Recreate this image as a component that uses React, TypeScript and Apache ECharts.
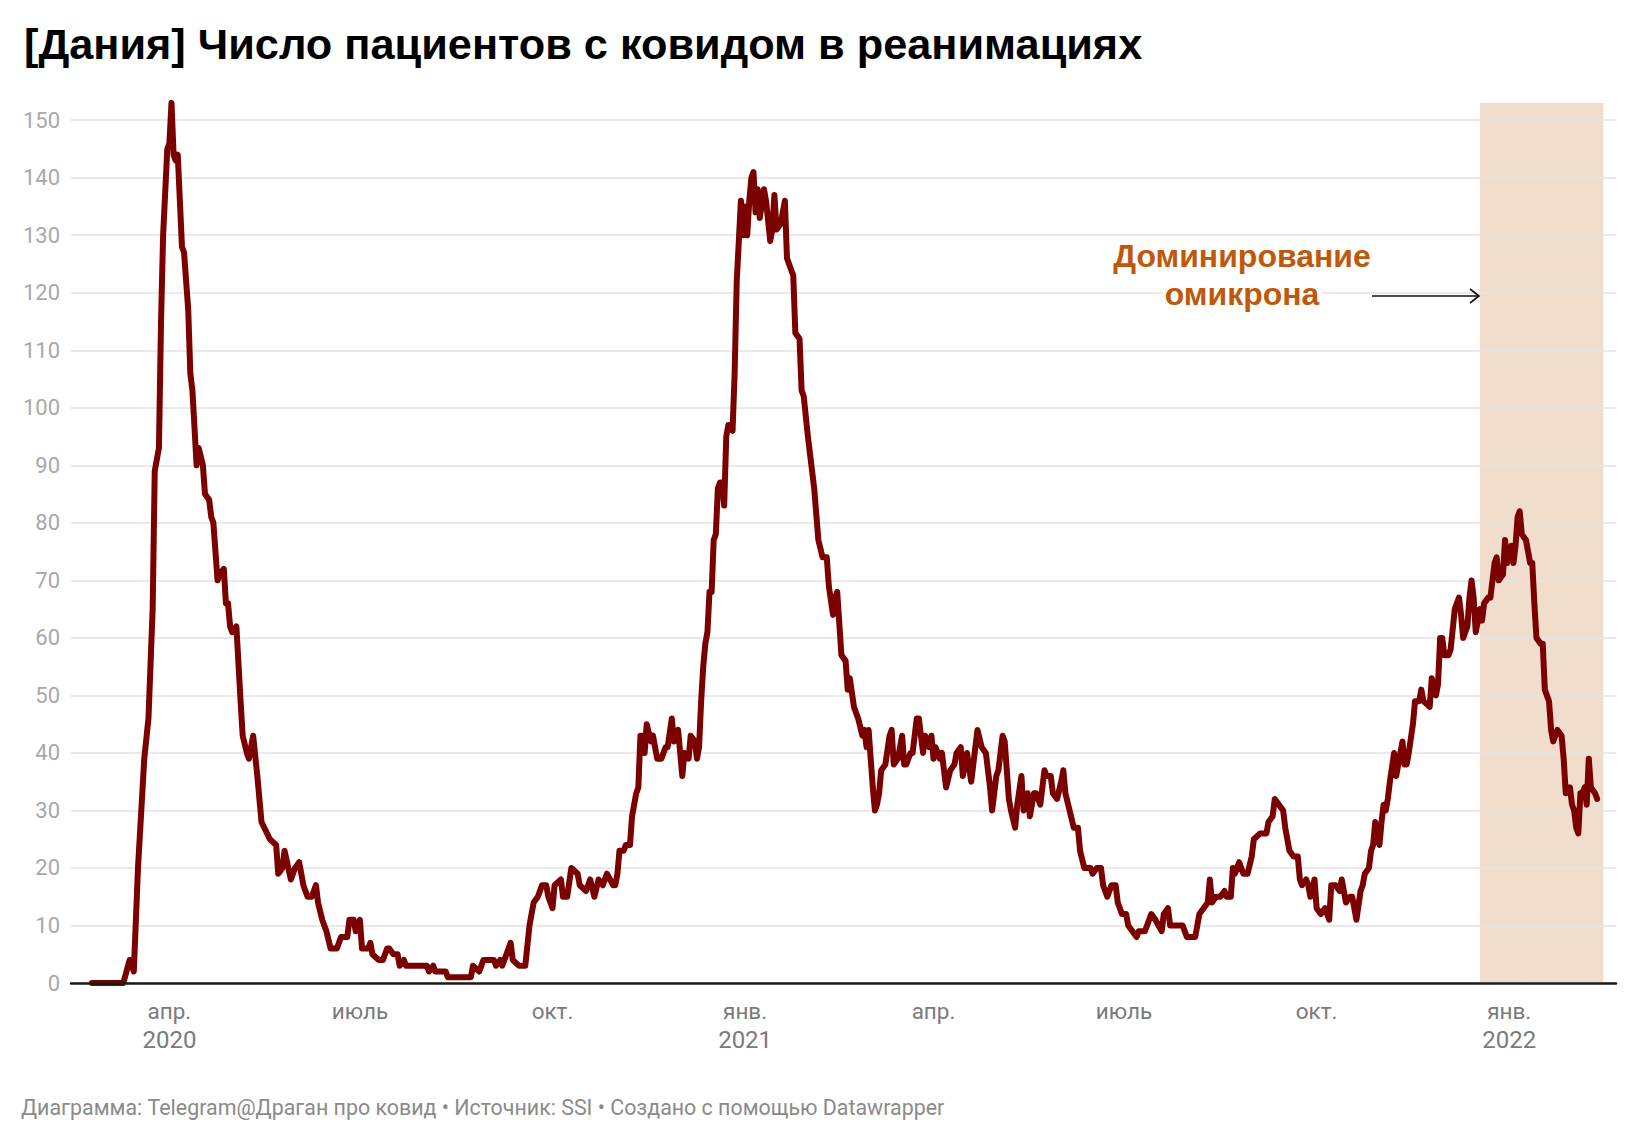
import React, { useEffect, useRef } from "react";
import * as echarts from "echarts";

// ---------- DATA ----------
const dates: string[] = [
  "2020-02-24","2020-03-10","2020-03-13","2020-03-15","2020-03-17","2020-03-20","2020-03-22","2020-03-24","2020-03-25","2020-03-27",
  "2020-03-28","2020-03-29","2020-03-31","2020-04-01","2020-04-02","2020-04-03","2020-04-04","2020-04-05","2020-04-07","2020-04-08",
  "2020-04-10","2020-04-11","2020-04-12","2020-04-14","2020-04-15","2020-04-17","2020-04-18","2020-04-20","2020-04-21","2020-04-22",
  "2020-04-24","2020-04-25","2020-04-27","2020-04-28","2020-04-29","2020-04-30","2020-05-01","2020-05-03","2020-05-05","2020-05-06",
  "2020-05-08","2020-05-09","2020-05-11","2020-05-13","2020-05-15","2020-05-19","2020-05-22","2020-05-23","2020-05-25","2020-05-26",
  "2020-05-29","2020-05-31","2020-06-02","2020-06-04","2020-06-06","2020-06-08","2020-06-10","2020-06-11","2020-06-13","2020-06-15",
  "2020-06-17","2020-06-20","2020-06-22","2020-06-25","2020-06-26","2020-06-28","2020-06-29","2020-07-01","2020-07-02","2020-07-05",
  "2020-07-06","2020-07-07","2020-07-10","2020-07-12","2020-07-14","2020-07-15","2020-07-17","2020-07-19","2020-07-20","2020-07-22",
  "2020-07-23","2020-08-02","2020-08-03","2020-08-05","2020-08-06","2020-08-11","2020-08-12","2020-08-23","2020-08-24","2020-08-27",
  "2020-08-29","2020-09-03","2020-09-04","2020-09-06","2020-09-07","2020-09-09","2020-09-11","2020-09-12","2020-09-15","2020-09-18",
  "2020-09-20","2020-09-22","2020-09-24","2020-09-26","2020-09-28","2020-09-29","2020-10-01","2020-10-02","2020-10-05","2020-10-06",
  "2020-10-08","2020-10-10","2020-10-13","2020-10-14","2020-10-17","2020-10-19","2020-10-21","2020-10-23","2020-10-25","2020-10-27",
  "2020-10-30","2020-10-31","2020-11-01","2020-11-02","2020-11-04","2020-11-05","2020-11-07","2020-11-08","2020-11-09","2020-11-10",
  "2020-11-11","2020-11-12","2020-11-13","2020-11-14","2020-11-15","2020-11-17","2020-11-18","2020-11-20","2020-11-22","2020-11-24",
  "2020-11-25","2020-11-27","2020-11-28","2020-11-30","2020-12-01","2020-12-02","2020-12-03","2020-12-05","2020-12-06","2020-12-08",
  "2020-12-09","2020-12-10","2020-12-11","2020-12-12","2020-12-13","2020-12-14","2020-12-15","2020-12-16","2020-12-17","2020-12-18",
  "2020-12-19","2020-12-20","2020-12-21","2020-12-22","2020-12-23","2020-12-24","2020-12-26","2020-12-27","2020-12-28","2020-12-30",
  "2020-12-31","2021-01-01","2021-01-02","2021-01-03","2021-01-04","2021-01-05","2021-01-06","2021-01-07","2021-01-08","2021-01-10",
  "2021-01-11","2021-01-13","2021-01-14","2021-01-15","2021-01-16","2021-01-18","2021-01-20","2021-01-21","2021-01-24","2021-01-25",
  "2021-01-27","2021-01-28","2021-01-29","2021-01-31","2021-02-01","2021-02-03","2021-02-05","2021-02-07","2021-02-09","2021-02-10",
  "2021-02-12","2021-02-13","2021-02-14","2021-02-16","2021-02-18","2021-02-19","2021-02-20","2021-02-22","2021-02-24","2021-02-26",
  "2021-02-27","2021-02-28","2021-03-01","2021-03-03","2021-03-04","2021-03-05","2021-03-06","2021-03-07","2021-03-09","2021-03-11",
  "2021-03-12","2021-03-13","2021-03-15","2021-03-17","2021-03-18","2021-03-19","2021-03-21","2021-03-22","2021-03-24","2021-03-25",
  "2021-03-27","2021-03-28","2021-03-30","2021-03-31","2021-04-01","2021-04-02","2021-04-04","2021-04-05","2021-04-07","2021-04-09",
  "2021-04-11","2021-04-12","2021-04-14","2021-04-15","2021-04-17","2021-04-19","2021-04-20","2021-04-22","2021-04-24","2021-04-26",
  "2021-04-28","2021-04-29","2021-05-01","2021-05-02","2021-05-04","2021-05-05","2021-05-07","2021-05-08","2021-05-10","2021-05-11",
  "2021-05-13","2021-05-14","2021-05-16","2021-05-17","2021-05-19","2021-05-20","2021-05-22","2021-05-24","2021-05-25","2021-05-27",
  "2021-05-28","2021-05-30","2021-06-01","2021-06-02","2021-06-03","2021-06-05","2021-06-07","2021-06-09","2021-06-10","2021-06-12",
  "2021-06-15","2021-06-16","2021-06-18","2021-06-20","2021-06-21","2021-06-23","2021-06-25","2021-06-27","2021-06-28","2021-06-30",
  "2021-07-02","2021-07-03","2021-07-05","2021-07-07","2021-07-08","2021-07-11","2021-07-12","2021-07-14","2021-07-16","2021-07-19",
  "2021-07-20","2021-07-22","2021-07-23","2021-07-26","2021-07-29","2021-07-31","2021-08-04","2021-08-06","2021-08-08","2021-08-10",
  "2021-08-11","2021-08-12","2021-08-14","2021-08-16","2021-08-18","2021-08-19","2021-08-21","2021-08-22","2021-08-23","2021-08-25",
  "2021-08-27","2021-08-29","2021-08-31","2021-09-01","2021-09-04","2021-09-07","2021-09-08","2021-09-10","2021-09-11","2021-09-13",
  "2021-09-15","2021-09-16","2021-09-18","2021-09-20","2021-09-22","2021-09-23","2021-09-24","2021-09-26","2021-09-27","2021-09-28",
  "2021-09-30","2021-10-01","2021-10-03","2021-10-05","2021-10-07","2021-10-08","2021-10-10","2021-10-12","2021-10-13","2021-10-15",
  "2021-10-17","2021-10-18","2021-10-19","2021-10-20","2021-10-22","2021-10-23","2021-10-24","2021-10-26","2021-10-27","2021-10-28",
  "2021-10-29","2021-10-31","2021-11-01","2021-11-02","2021-11-03","2021-11-04","2021-11-05","2021-11-07","2021-11-08","2021-11-09",
  "2021-11-11","2021-11-12","2021-11-13","2021-11-14","2021-11-16","2021-11-17","2021-11-19","2021-11-20","2021-11-21","2021-11-24",
  "2021-11-25","2021-11-27","2021-11-28","2021-11-29","2021-11-30","2021-12-01","2021-12-03","2021-12-04","2021-12-06","2021-12-07",
  "2021-12-08","2021-12-09","2021-12-10","2021-12-12","2021-12-13","2021-12-14","2021-12-15","2021-12-16","2021-12-18","2021-12-19",
  "2021-12-20","2021-12-22","2021-12-23","2021-12-25","2021-12-26","2021-12-27","2021-12-29","2021-12-30","2021-12-31","2022-01-01",
  "2022-01-02","2022-01-03","2022-01-04","2022-01-05","2022-01-06","2022-01-07","2022-01-09","2022-01-10","2022-01-11","2022-01-12",
  "2022-01-13","2022-01-14","2022-01-16","2022-01-17","2022-01-18","2022-01-20","2022-01-21","2022-01-22","2022-01-24","2022-01-26",
  "2022-01-27","2022-01-28","2022-01-30","2022-01-31","2022-02-01","2022-02-02","2022-02-03","2022-02-04","2022-02-05","2022-02-06",
  "2022-02-07","2022-02-08","2022-02-09","2022-02-11","2022-02-12"
];

const icuPatients: number[] = [
  0,0,4,2,20,39,46,65,89,93,
  115,130,145,146,153,144,143,144,128,127,
  117,106,103,90,93,90,85,84,81,80,
  70,71,72,66,66,62,61,62,49,43,
  40,39,43,36,28,25,24,19,20,23,
  18,20,21,17,15,15,17,14,11,9,
  6,6,8,8,11,11,9,11,6,6,
  7,5,4,4,6,6,5,5,3,4,
  3,3,2,3,2,2,1,1,3,2,
  4,4,3,4,3,5,7,4,3,3,
  10,14,15,17,17,15,13,17,18,15,
  15,20,19,17,16,18,15,18,17,19,
  17,17,19,23,23,24,24,29,31,33,
  34,43,43,40,45,42,43,39,39,41,
  41,46,42,44,40,36,40,39,43,42,
  39,41,49,55,59,61,68,68,77,78,
  86,87,87,83,95,97,96,106,122,136,
  130,135,130,136,140,141,134,138,133,138,
  136,129,131,137,131,132,136,126,123,113,
  112,103,102,95,92,86,77,74,74,69,
  64,67,68,57,56,51,53,48,46,43,
  44,41,44,34,30,31,33,37,38,43,
  44,38,39,43,38,38,40,40,46,46,
  40,43,41,43,39,41,39,40,34,37,
  38,40,41,36,40,35,38,44,41,40,
  34,30,36,37,43,42,32,30,27,31,
  36,30,33,29,33,33,31,37,36,36,
  33,32,35,37,33,30,27,27,23,20,
  20,19,20,20,17,15,17,17,14,12,
  12,10,9,8,9,9,10,12,11,9,
  12,13,10,10,10,8,8,12,13,14,
  18,14,15,15,16,15,15,20,19,21,
  19,19,22,25,26,26,28,29,32,31,
  30,27,23,22,22,18,17,18,17,15,
  18,13,12,13,11,17,17,16,18,14,
  15,15,13,11,16,17,19,20,23,24,
  28,24,28,31,30,32,35,40,36,38,
  42,38,38,40,45,49,49,51,49,48,
  53,50,52,60,60,57,57,58,65,66,
  67,64,60,62,67,70,67,61,65,63,
  66,67,67,73,74,70,71,77,73,75,
  76,73,76,81,82,78,77,75,73,73,
  66,60,59,59,51,49,44,42,44,43,
  39,33,34,31,30,27,26,33,33,34,
  31,39,34,33,32
];

const quarterTicks: string[] = [
  "2020-04-01","2020-07-01","2020-10-01","2021-01-01",
  "2021-04-01","2021-07-01","2021-10-01","2022-01-01"
];
const monthNames: Record<number, string> = { 0: "янв.", 3: "апр.", 6: "июль", 9: "окт." };
const yTickMax = 150;
const yTickStep = 10;
const dataMax = 153;
const xStart = "2020-02-14";
const xEnd = "2022-02-21";
const omicronStart = "2021-12-18";
const omicronEnd = "2022-02-15";

const titleText = "[Дания] Число пациентов с ковидом в реанимациях";
const annotationText = "Доминирование\nомикрона";
const footerText = "Диаграмма: Telegram@Драган про ковид • Источник: SSI • Создано с помощью Datawrapper";

const ts = (s: string): number => {
  const [y, m, d] = s.split("-").map(Number);
  return Date.UTC(y, m - 1, d);
};

// ---------- COMPONENT ----------
export default function App() {
  const ref = useRef<HTMLDivElement>(null);

  useEffect(() => {
    if (!ref.current) return;
    const chart = echarts.init(ref.current, null, { renderer: "svg" });

    const H = 1140;
    const plotLeft = 71, plotRight = 24, plotBottom = 157;
    const pxPerUnit = 5.752;
    const axisY = H - plotBottom;
    const topData = axisY - pxPerUnit * dataMax;
    const topTicks = axisY - pxPerUnit * yTickMax;

    const tickTs = quarterTicks.map(ts);
    const firstTickTs = tickTs[0];
    const seriesData = dates.map((d, i) => [ts(d), icuPatients[i]]);

    const option: any = {
      animation: false,
      backgroundColor: "#ffffff",
      title: {
        text: titleText,
        left: 19,
        top: 17,
        textStyle: {
          fontFamily: "Liberation Sans",
          fontWeight: "bold",
          fontSize: 43.3,
          color: "#000000",
        },
      },
      grid: [
        { left: plotLeft, right: plotRight, top: topData, bottom: plotBottom, containLabel: false },
        { left: plotLeft, right: plotRight, top: topTicks, bottom: plotBottom, containLabel: false },
      ],
      xAxis: [
        {
          type: "value",
          gridIndex: 0,
          min: ts(xStart),
          max: ts(xEnd),
          z: 4,
          axisLine: { show: true, onZero: false, lineStyle: { color: "#1a1a1a", width: 2.5 } },
          axisTick: { show: false },
          splitLine: { show: false },
          axisLabel: {
            customValues: tickTs,
            margin: 13,
            color: "#7a7a7a",
            fontFamily: "Roboto",
            fontSize: 22,
            lineHeight: 29,
            hideOverlap: false,
            formatter: (val: number) => {
              const dt = new Date(val);
              const m = dt.getUTCMonth();
              const name = monthNames[m] || "";
              if (m === 0 || val === firstTickTs) return "{m|" + name + "}\n{y|" + dt.getUTCFullYear() + "}";
              return "{m|" + name + "}";
            },
            rich: {
              m: { fontFamily: "Roboto", fontSize: 22.5, lineHeight: 29, color: "#7a7a7a" },
              y: { fontFamily: "Roboto", fontSize: 24, lineHeight: 29, color: "#7a7a7a" },
            },
          },
        },
        {
          type: "value",
          gridIndex: 1,
          min: ts(xStart),
          max: ts(xEnd),
          show: false,
          splitLine: { show: false },
        },
      ],
      yAxis: [
        {
          type: "value",
          gridIndex: 0,
          min: 0,
          max: dataMax,
          show: false,
          splitLine: { show: false },
        },
        {
          type: "value",
          gridIndex: 1,
          min: 0,
          max: yTickMax,
          interval: yTickStep,
          z: 2,
          axisLine: { show: false },
          axisTick: { show: false },
          axisLabel: {
            margin: 11,
            color: "#a8a8a8",
            fontFamily: "Roboto",
            fontSize: 22,
          },
          splitLine: { show: true, lineStyle: { color: "#e3e3e3", width: 1.5 } },
        },
      ],
      series: [
        {
          type: "line",
          xAxisIndex: 0,
          yAxisIndex: 0,
          data: [],
          silent: true,
          markArea: {
            silent: true,
            itemStyle: { color: "#f0ddcc" },
            data: [[{ xAxis: ts(omicronStart) }, { xAxis: ts(omicronEnd) }]],
          },
        },
        {
          type: "line",
          xAxisIndex: 0,
          yAxisIndex: 0,
          z: 3,
          data: seriesData,
          showSymbol: false,
          smooth: false,
          lineStyle: { color: "#7b0000", width: 6, cap: "round", join: "round" },
        },
      ],
      graphic: [
        {
          type: "text",
          x: 1242,
          y: 237,
          z: 20,
          style: {
            text: annotationText,
            textAlign: "center",
            fill: "#c0580c",
            font: "bold 32px 'Liberation Sans'",
            lineHeight: 38,
            stroke: "#ffffff",
            lineWidth: 8,
          },
        },
        {
          type: "line",
          z: 20,
          shape: { x1: 1372, y1: 296, x2: 1479, y2: 296 },
          style: { stroke: "#111111", lineWidth: 1.6 },
        },
        {
          type: "polyline",
          z: 20,
          shape: { points: [[1470, 289], [1479, 296], [1470, 303]] },
          style: { stroke: "#111111", lineWidth: 1.6, fill: null },
        },
        {
          type: "text",
          x: 21,
          y: 1107,
          style: {
            text: footerText,
            fill: "#8a8a8a",
            font: "21.4px Roboto",
            verticalAlign: "middle",
          },
        },
      ],
    };

    chart.setOption(option);
    return () => chart.dispose();
  }, []);

  return (
    <div
      ref={ref}
      style={{ position: "absolute", left: 0, top: 0, width: 1640, height: 1140, background: "#fff" }}
    />
  );
}
